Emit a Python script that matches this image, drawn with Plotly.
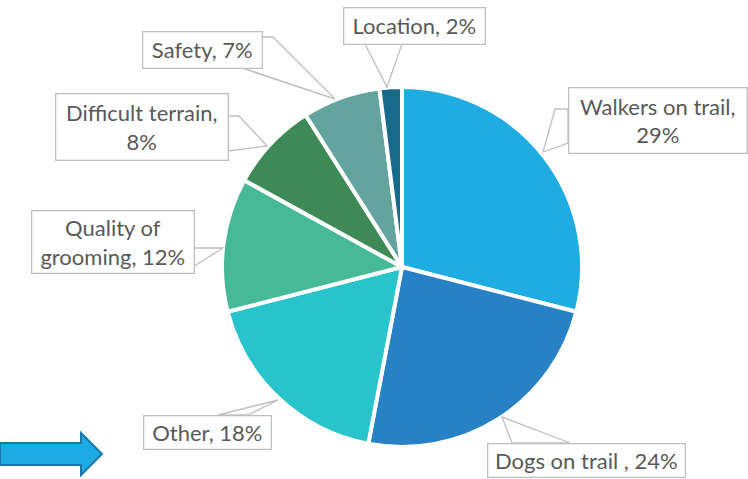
import plotly.graph_objects as go

W, H = 748, 479

categories = ["Walkers on trail", "Dogs on trail ", "Other", "Quality of grooming",
              "Difficult terrain", "Safety", "Location"]
values = [29, 24, 18, 12, 8, 7, 2]
label_texts = ["Walkers on trail,<br>29%", "Dogs on trail , 24%", "Other, 18%",
               "Quality of<br>grooming, 12%", "Difficult terrain,<br>8%", "Safety, 7%",
               "Location, 2%"]
colors = ["#1FACE3", "#2981C5", "#28C3CB", "#46BA96", "#3D8A56", "#63A49F", "#176A8A"]

def px(x):
    return x / W

def py(y):
    return 1 - y / H

fig = go.Figure()
fig.add_trace(go.Pie(
    labels=categories, values=values, sort=False, direction="clockwise", rotation=0,
    marker=dict(colors=colors, line=dict(color="white", width=4)),
    textinfo="none", hoverinfo="skip", showlegend=False,
    domain=dict(x=[px(222), px(582)], y=[py(447), py(87)]),
))

# callout boxes (pixel bounds: x0, y0, x1, y1)
boxes = [
    (568, 88, 747, 154),   # Walkers
    (487, 443, 685, 477),  # Dogs
    (143, 415, 271, 449),  # Other
    (31, 211, 194, 274),   # Quality
    (55, 94, 228, 161),    # Difficult
    (142, 31, 262, 68),    # Safety
    (343, 7, 485, 44),     # Location
]
pointers = [
    [(568, 109), (555, 109), (543, 152), (568, 143)],
    [(512, 443), (502, 417), (570, 443)],
    [(218, 415), (278, 400), (248, 415)],
    [(194, 248), (223, 248), (194, 266)],
    [(228, 116), (239, 116), (267, 146), (228, 151)],
    [(262, 37), (273, 37), (335, 99), (242, 68), (213, 68)],
    [(365, 44), (387, 87), (402, 44)],
]

shapes = []
for pts in pointers:
    path = "M " + " L ".join(f"{px(x):.5f},{py(y):.5f}" for x, y in pts) + " Z"
    shapes.append(dict(type="path", xref="paper", yref="paper", path=path,
                       fillcolor="white", line=dict(color="#BFBFBF", width=1.3),
                       layer="above"))
# extra line for safety callout
shapes.append(dict(type="line", xref="paper", yref="paper",
                   x0=px(242), y0=py(68), x1=px(335), y1=py(99),
                   line=dict(color="#BFBFBF", width=1.3), layer="above"))

# blue arrow
arrow = [(0, 443), (81, 443), (81, 433), (102, 454), (81, 475), (81, 465), (0, 465)]
shapes.append(dict(type="path", xref="paper", yref="paper",
                   path="M " + " L ".join(f"{px(x):.5f},{py(y):.5f}" for x, y in arrow) + " Z",
                   fillcolor="#1EAAE2", line=dict(color="#1A78A6", width=2), layer="above"))

annotations = []
for (x0, y0, x1, y1), t in zip(boxes, label_texts):
    annotations.append(dict(
        x=px((x0 + x1) / 2), y=py((y0 + y1) / 2), xref="paper", yref="paper",
        xanchor="center", yanchor="middle", text=t, showarrow=False,
        width=x1 - x0 - 2, height=y1 - y0 - 2, align="center", valign="middle",
        bgcolor="white", bordercolor="#BFBFBF", borderwidth=1.3, borderpad=0,
        font=dict(family="Lato, Open Sans, sans-serif", size=22, color="#595959"),
    ))

fig.update_layout(
    width=W, height=H, margin=dict(l=0, r=0, t=0, b=0),
    paper_bgcolor="white", plot_bgcolor="white",
    shapes=shapes, annotations=annotations,
)

fig.write_html("out.html", config={"displayModeBar": False},
               post_script="document.body.style.margin='0';document.body.style.padding='0';")
